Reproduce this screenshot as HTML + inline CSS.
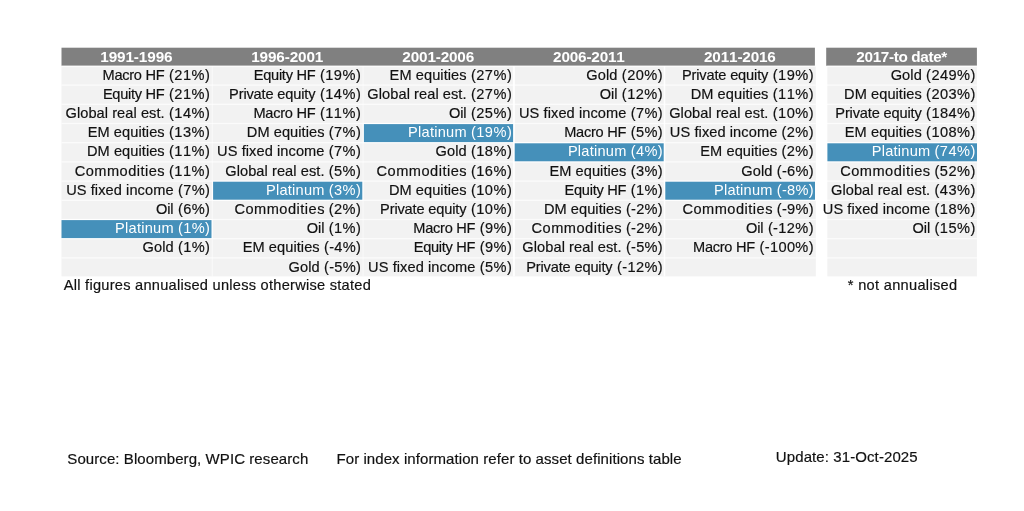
<!DOCTYPE html>
<html lang="en"><head><meta charset="utf-8"><title>Asset class returns</title>
<style>
html,body{margin:0;padding:0;background:#fff;}
body{width:1024px;height:511px;position:relative;overflow:hidden;}
svg{display:block;position:absolute;left:0;top:0;}
svg text{stroke-width:0.18px;font-family:"Liberation Sans",Arial,sans-serif;font-kerning:none;white-space:pre;}
</style></head><body>
<svg width="1024" height="511" viewBox="0 0 1024 511">
<rect x="61.5" y="47.7" width="753.40" height="18.10" fill="#808080"/>
<rect x="826.2" y="47.7" width="150.70" height="18.10" fill="#808080"/>
<rect x="61.5" y="65.8" width="754.30" height="210.60" fill="#f2f2f2"/>
<rect x="827.3000000000001" y="65.8" width="149.60" height="210.60" fill="#f2f2f2"/>
<g fill="#fff">
<rect x="61.5" y="65.85" width="754.30" height="1.3" fill-opacity="0.7"/>
<rect x="826.2" y="65.85" width="150.70" height="1.3" fill-opacity="0.75"/>
<rect x="61.5" y="84.45" width="754.30" height="1.3" fill-opacity="0.7"/>
<rect x="826.2" y="84.45" width="150.70" height="1.3" fill-opacity="0.75"/>
<rect x="61.5" y="103.65" width="754.30" height="1.3" fill-opacity="0.7"/>
<rect x="826.2" y="103.65" width="150.70" height="1.3" fill-opacity="0.75"/>
<rect x="61.5" y="122.85" width="754.30" height="1.3" fill-opacity="0.7"/>
<rect x="826.2" y="122.85" width="150.70" height="1.3" fill-opacity="0.75"/>
<rect x="61.5" y="142.05" width="754.30" height="1.3" fill-opacity="0.7"/>
<rect x="826.2" y="142.05" width="150.70" height="1.3" fill-opacity="0.75"/>
<rect x="61.5" y="161.25" width="754.30" height="1.3" fill-opacity="0.7"/>
<rect x="826.2" y="161.25" width="150.70" height="1.3" fill-opacity="0.75"/>
<rect x="61.5" y="180.45" width="754.30" height="1.3" fill-opacity="0.7"/>
<rect x="826.2" y="180.45" width="150.70" height="1.3" fill-opacity="0.75"/>
<rect x="61.5" y="199.65" width="754.30" height="1.3" fill-opacity="0.7"/>
<rect x="826.2" y="199.65" width="150.70" height="1.3" fill-opacity="0.75"/>
<rect x="61.5" y="218.85" width="754.30" height="1.3" fill-opacity="0.7"/>
<rect x="826.2" y="218.85" width="150.70" height="1.3" fill-opacity="0.75"/>
<rect x="61.5" y="238.05" width="754.30" height="1.3" fill-opacity="0.7"/>
<rect x="826.2" y="238.05" width="150.70" height="1.3" fill-opacity="0.75"/>
<rect x="61.5" y="257.25" width="754.30" height="1.3" fill-opacity="0.7"/>
<rect x="826.2" y="257.25" width="150.70" height="1.3" fill-opacity="0.75"/>
<rect x="211.70" y="66.1" width="1.2" height="210.30" fill-opacity="0.5"/>
<rect x="362.50" y="66.1" width="1.2" height="210.30" fill-opacity="0.5"/>
<rect x="512.90" y="66.1" width="2.0" height="210.30" fill-opacity="0.9"/>
<rect x="663.75" y="66.1" width="1.5" height="210.30" fill-opacity="0.9"/>
</g>
<text x="100.24" y="62" font-weight="bold" font-size="15.3" letter-spacing="-0.106" fill="#fff">1991-1996</text>
<text y="79.60" font-size="14.6" fill="#111" stroke="#111"><tspan x="102.50" letter-spacing="-0.269">Macro HF </tspan><tspan x="168.99" letter-spacing="0.491">(21%)</tspan></text>
<text y="98.80" font-size="14.6" fill="#111" stroke="#111"><tspan x="102.90" letter-spacing="-0.287">Equity HF </tspan><tspan x="168.99" letter-spacing="0.491">(21%)</tspan></text>
<text y="118.00" font-size="14.6" fill="#111" stroke="#111"><tspan x="65.47" letter-spacing="0.069">Global real est. </tspan><tspan x="168.99" letter-spacing="0.491">(14%)</tspan></text>
<text y="137.20" font-size="14.6" fill="#111" stroke="#111"><tspan x="87.70" letter-spacing="0.072">EM equities </tspan><tspan x="168.99" letter-spacing="0.491">(13%)</tspan></text>
<text y="156.40" font-size="14.6" fill="#111" stroke="#111"><tspan x="87.00" letter-spacing="0.061">DM equities </tspan><tspan x="168.99" letter-spacing="0.491">(11%)</tspan></text>
<text y="175.60" font-size="14.6" fill="#111" stroke="#111"><tspan x="74.66" letter-spacing="0.485">Commodities </tspan><tspan x="168.99" letter-spacing="0.491">(11%)</tspan></text>
<text y="194.80" font-size="14.6" fill="#111" stroke="#111"><tspan x="66.17" letter-spacing="0.081">US fixed income </tspan><tspan x="177.89" letter-spacing="0.395">(7%)</tspan></text>
<text y="214.00" font-size="14.6" fill="#111" stroke="#111"><tspan x="155.91" letter-spacing="-0.076">Oil </tspan><tspan x="177.89" letter-spacing="0.395">(6%)</tspan></text>
<rect x="61.30" y="219.20" width="151.20" height="19.80" fill="#fff"/>
<rect x="61.50" y="220.10" width="150.00" height="18.00" fill="#4590ba"/>
<text y="233.20" font-size="14.6" fill="#fff" stroke="none"><tspan x="115.10" letter-spacing="0.242">Platinum </tspan><tspan x="177.89" letter-spacing="0.395">(1%)</tspan></text>
<text y="252.40" font-size="14.6" fill="#111" stroke="#111"><tspan x="142.47" letter-spacing="0.098">Gold </tspan><tspan x="177.89" letter-spacing="0.395">(1%)</tspan></text>
<text x="251.14" y="62" font-weight="bold" font-size="15.3" letter-spacing="-0.122" fill="#fff">1996-2001</text>
<text y="79.60" font-size="14.6" fill="#111" stroke="#111"><tspan x="253.80" letter-spacing="-0.287">Equity HF </tspan><tspan x="319.89" letter-spacing="0.491">(19%)</tspan></text>
<text y="98.80" font-size="14.6" fill="#111" stroke="#111"><tspan x="229.10" letter-spacing="-0.151">Private equity </tspan><tspan x="319.89" letter-spacing="0.491">(14%)</tspan></text>
<text y="118.00" font-size="14.6" fill="#111" stroke="#111"><tspan x="253.40" letter-spacing="-0.269">Macro HF </tspan><tspan x="319.89" letter-spacing="0.491">(11%)</tspan></text>
<text y="137.20" font-size="14.6" fill="#111" stroke="#111"><tspan x="246.80" letter-spacing="0.061">DM equities </tspan><tspan x="328.79" letter-spacing="0.395">(7%)</tspan></text>
<text y="156.40" font-size="14.6" fill="#111" stroke="#111"><tspan x="217.07" letter-spacing="0.081">US fixed income </tspan><tspan x="328.79" letter-spacing="0.395">(7%)</tspan></text>
<text y="175.60" font-size="14.6" fill="#111" stroke="#111"><tspan x="225.27" letter-spacing="0.069">Global real est. </tspan><tspan x="328.79" letter-spacing="0.395">(5%)</tspan></text>
<rect x="212.10" y="180.80" width="151.20" height="19.80" fill="#fff"/>
<rect x="213.10" y="181.70" width="149.20" height="18.00" fill="#4590ba"/>
<text y="194.80" font-size="14.6" fill="#fff" stroke="none"><tspan x="266.00" letter-spacing="0.242">Platinum </tspan><tspan x="328.79" letter-spacing="0.395">(3%)</tspan></text>
<text y="214.00" font-size="14.6" fill="#111" stroke="#111"><tspan x="234.46" letter-spacing="0.485">Commodities </tspan><tspan x="328.79" letter-spacing="0.395">(2%)</tspan></text>
<text y="233.20" font-size="14.6" fill="#111" stroke="#111"><tspan x="306.81" letter-spacing="-0.076">Oil </tspan><tspan x="328.79" letter-spacing="0.395">(1%)</tspan></text>
<text y="252.40" font-size="14.6" fill="#111" stroke="#111"><tspan x="242.70" letter-spacing="0.072">EM equities </tspan><tspan x="323.99" letter-spacing="0.281">(-4%)</tspan></text>
<text y="271.60" font-size="14.6" fill="#111" stroke="#111"><tspan x="288.57" letter-spacing="0.098">Gold </tspan><tspan x="323.99" letter-spacing="0.281">(-5%)</tspan></text>
<text x="402.37" y="62" font-weight="bold" font-size="15.3" letter-spacing="-0.161" fill="#fff">2001-2006</text>
<text y="79.60" font-size="14.6" fill="#111" stroke="#111"><tspan x="389.60" letter-spacing="0.072">EM equities </tspan><tspan x="470.89" letter-spacing="0.491">(27%)</tspan></text>
<text y="98.80" font-size="14.6" fill="#111" stroke="#111"><tspan x="367.37" letter-spacing="0.069">Global real est. </tspan><tspan x="470.89" letter-spacing="0.491">(27%)</tspan></text>
<text y="118.00" font-size="14.6" fill="#111" stroke="#111"><tspan x="448.91" letter-spacing="-0.076">Oil </tspan><tspan x="470.89" letter-spacing="0.491">(25%)</tspan></text>
<rect x="362.90" y="123.20" width="151.20" height="19.80" fill="#fff"/>
<rect x="363.90" y="124.10" width="149.20" height="18.00" fill="#4590ba"/>
<text y="137.20" font-size="14.6" fill="#fff" stroke="none"><tspan x="408.10" letter-spacing="0.242">Platinum </tspan><tspan x="470.89" letter-spacing="0.491">(19%)</tspan></text>
<text y="156.40" font-size="14.6" fill="#111" stroke="#111"><tspan x="435.47" letter-spacing="0.098">Gold </tspan><tspan x="470.89" letter-spacing="0.491">(18%)</tspan></text>
<text y="175.60" font-size="14.6" fill="#111" stroke="#111"><tspan x="376.56" letter-spacing="0.485">Commodities </tspan><tspan x="470.89" letter-spacing="0.491">(16%)</tspan></text>
<text y="194.80" font-size="14.6" fill="#111" stroke="#111"><tspan x="388.90" letter-spacing="0.061">DM equities </tspan><tspan x="470.89" letter-spacing="0.491">(10%)</tspan></text>
<text y="214.00" font-size="14.6" fill="#111" stroke="#111"><tspan x="380.10" letter-spacing="-0.151">Private equity </tspan><tspan x="470.89" letter-spacing="0.491">(10%)</tspan></text>
<text y="233.20" font-size="14.6" fill="#111" stroke="#111"><tspan x="413.30" letter-spacing="-0.269">Macro HF </tspan><tspan x="479.79" letter-spacing="0.395">(9%)</tspan></text>
<text y="252.40" font-size="14.6" fill="#111" stroke="#111"><tspan x="413.70" letter-spacing="-0.287">Equity HF </tspan><tspan x="479.79" letter-spacing="0.395">(9%)</tspan></text>
<text y="271.60" font-size="14.6" fill="#111" stroke="#111"><tspan x="368.07" letter-spacing="0.081">US fixed income </tspan><tspan x="479.79" letter-spacing="0.395">(5%)</tspan></text>
<text x="553.07" y="62" font-weight="bold" font-size="15.3" letter-spacing="-0.176" fill="#fff">2006-2011</text>
<text y="79.60" font-size="14.6" fill="#111" stroke="#111"><tspan x="586.37" letter-spacing="0.098">Gold </tspan><tspan x="621.79" letter-spacing="0.491">(20%)</tspan></text>
<text y="98.80" font-size="14.6" fill="#111" stroke="#111"><tspan x="599.81" letter-spacing="-0.076">Oil </tspan><tspan x="621.79" letter-spacing="0.491">(12%)</tspan></text>
<text y="118.00" font-size="14.6" fill="#111" stroke="#111"><tspan x="518.97" letter-spacing="0.081">US fixed income </tspan><tspan x="630.69" letter-spacing="0.395">(7%)</tspan></text>
<text y="137.20" font-size="14.6" fill="#111" stroke="#111"><tspan x="564.20" letter-spacing="-0.269">Macro HF </tspan><tspan x="630.69" letter-spacing="0.395">(5%)</tspan></text>
<rect x="513.70" y="142.40" width="151.00" height="19.80" fill="#fff"/>
<rect x="514.70" y="143.30" width="149.00" height="18.00" fill="#4590ba"/>
<text y="156.40" font-size="14.6" fill="#fff" stroke="none"><tspan x="567.90" letter-spacing="0.242">Platinum </tspan><tspan x="630.69" letter-spacing="0.395">(4%)</tspan></text>
<text y="175.60" font-size="14.6" fill="#111" stroke="#111"><tspan x="549.40" letter-spacing="0.072">EM equities </tspan><tspan x="630.69" letter-spacing="0.395">(3%)</tspan></text>
<text y="194.80" font-size="14.6" fill="#111" stroke="#111"><tspan x="564.60" letter-spacing="-0.287">Equity HF </tspan><tspan x="630.69" letter-spacing="0.395">(1%)</tspan></text>
<text y="214.00" font-size="14.6" fill="#111" stroke="#111"><tspan x="543.90" letter-spacing="0.061">DM equities </tspan><tspan x="625.89" letter-spacing="0.281">(-2%)</tspan></text>
<text y="233.20" font-size="14.6" fill="#111" stroke="#111"><tspan x="531.56" letter-spacing="0.485">Commodities </tspan><tspan x="625.89" letter-spacing="0.281">(-2%)</tspan></text>
<text y="252.40" font-size="14.6" fill="#111" stroke="#111"><tspan x="522.37" letter-spacing="0.069">Global real est. </tspan><tspan x="625.89" letter-spacing="0.281">(-5%)</tspan></text>
<text y="271.60" font-size="14.6" fill="#111" stroke="#111"><tspan x="526.20" letter-spacing="-0.151">Private equity </tspan><tspan x="616.99" letter-spacing="0.381">(-12%)</tspan></text>
<text x="704.02" y="62" font-weight="bold" font-size="15.3" letter-spacing="-0.161" fill="#fff">2011-2016</text>
<text y="79.60" font-size="14.6" fill="#111" stroke="#111"><tspan x="681.90" letter-spacing="-0.151">Private equity </tspan><tspan x="772.69" letter-spacing="0.491">(19%)</tspan></text>
<text y="98.80" font-size="14.6" fill="#111" stroke="#111"><tspan x="690.70" letter-spacing="0.061">DM equities </tspan><tspan x="772.69" letter-spacing="0.491">(11%)</tspan></text>
<text y="118.00" font-size="14.6" fill="#111" stroke="#111"><tspan x="669.17" letter-spacing="0.069">Global real est. </tspan><tspan x="772.69" letter-spacing="0.491">(10%)</tspan></text>
<text y="137.20" font-size="14.6" fill="#111" stroke="#111"><tspan x="669.87" letter-spacing="0.081">US fixed income </tspan><tspan x="781.59" letter-spacing="0.395">(2%)</tspan></text>
<text y="156.40" font-size="14.6" fill="#111" stroke="#111"><tspan x="700.30" letter-spacing="0.072">EM equities </tspan><tspan x="781.59" letter-spacing="0.395">(2%)</tspan></text>
<text y="175.60" font-size="14.6" fill="#111" stroke="#111"><tspan x="741.37" letter-spacing="0.098">Gold </tspan><tspan x="776.79" letter-spacing="0.281">(-6%)</tspan></text>
<rect x="664.30" y="180.80" width="151.70" height="19.80" fill="#fff"/>
<rect x="665.30" y="181.70" width="149.70" height="18.00" fill="#4590ba"/>
<text y="194.80" font-size="14.6" fill="#fff" stroke="none"><tspan x="714.00" letter-spacing="0.242">Platinum </tspan><tspan x="776.79" letter-spacing="0.281">(-8%)</tspan></text>
<text y="214.00" font-size="14.6" fill="#111" stroke="#111"><tspan x="682.46" letter-spacing="0.485">Commodities </tspan><tspan x="776.79" letter-spacing="0.281">(-9%)</tspan></text>
<text y="233.20" font-size="14.6" fill="#111" stroke="#111"><tspan x="745.91" letter-spacing="-0.076">Oil </tspan><tspan x="767.89" letter-spacing="0.381">(-12%)</tspan></text>
<text y="252.40" font-size="14.6" fill="#111" stroke="#111"><tspan x="693.00" letter-spacing="-0.269">Macro HF </tspan><tspan x="759.49" letter-spacing="0.364">(-100%)</tspan></text>
<text x="856.37" y="62" font-weight="bold" font-size="15.3" letter-spacing="-0.358" fill="#fff">2017-to date*</text>
<text y="79.60" font-size="14.6" fill="#111" stroke="#111"><tspan x="890.67" letter-spacing="0.098">Gold </tspan><tspan x="926.09" letter-spacing="0.449">(249%)</tspan></text>
<text y="98.80" font-size="14.6" fill="#111" stroke="#111"><tspan x="844.10" letter-spacing="0.061">DM equities </tspan><tspan x="926.09" letter-spacing="0.449">(203%)</tspan></text>
<text y="118.00" font-size="14.6" fill="#111" stroke="#111"><tspan x="835.30" letter-spacing="-0.151">Private equity </tspan><tspan x="926.09" letter-spacing="0.449">(184%)</tspan></text>
<text y="137.20" font-size="14.6" fill="#111" stroke="#111"><tspan x="844.80" letter-spacing="0.072">EM equities </tspan><tspan x="926.09" letter-spacing="0.449">(108%)</tspan></text>
<rect x="826.60" y="142.40" width="150.90" height="19.80" fill="#fff"/>
<rect x="827.40" y="143.30" width="149.60" height="18.00" fill="#4590ba"/>
<text y="156.40" font-size="14.6" fill="#fff" stroke="none"><tspan x="871.70" letter-spacing="0.242">Platinum </tspan><tspan x="934.49" letter-spacing="0.491">(74%)</tspan></text>
<text y="175.60" font-size="14.6" fill="#111" stroke="#111"><tspan x="840.16" letter-spacing="0.485">Commodities </tspan><tspan x="934.49" letter-spacing="0.491">(52%)</tspan></text>
<text y="194.80" font-size="14.6" fill="#111" stroke="#111"><tspan x="830.97" letter-spacing="0.069">Global real est. </tspan><tspan x="934.49" letter-spacing="0.491">(43%)</tspan></text>
<text y="214.00" font-size="14.6" fill="#111" stroke="#111"><tspan x="822.77" letter-spacing="0.081">US fixed income </tspan><tspan x="934.49" letter-spacing="0.491">(18%)</tspan></text>
<text y="233.20" font-size="14.6" fill="#111" stroke="#111"><tspan x="912.51" letter-spacing="-0.076">Oil </tspan><tspan x="934.49" letter-spacing="0.491">(15%)</tspan></text>
<text x="63.77" y="290" font-size="14.6" letter-spacing="0.261" fill="#111" stroke="#111">All figures annualised unless otherwise stated</text>
<text x="847.86" y="290" font-size="14.6" letter-spacing="0.304" fill="#111" stroke="#111">* not annualised</text>
<text x="67.32" y="464" font-size="15.0" letter-spacing="0.080" fill="#111" stroke="#111">Source: Bloomberg, WPIC research</text>
<text x="336.47" y="464" font-size="15.0" letter-spacing="0.077" fill="#111" stroke="#111">For index information refer to asset definitions table</text>
<text x="775.84" y="462" font-size="15.0" letter-spacing="0.095" fill="#111" stroke="#111">Update: 31-Oct-2025</text>
</svg>
</body></html>
